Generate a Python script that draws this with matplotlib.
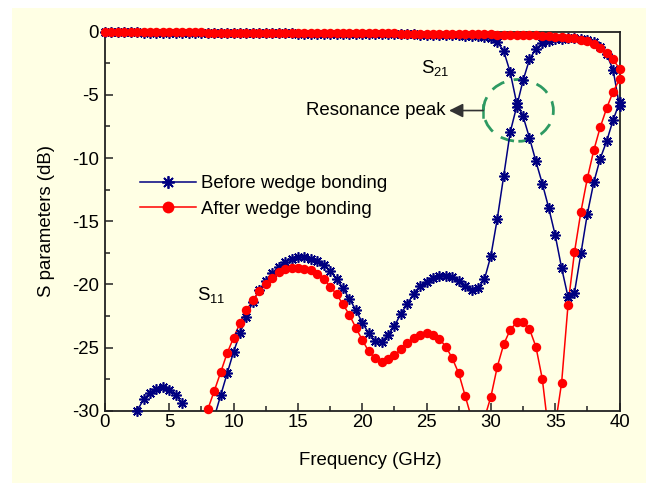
import numpy as np
import matplotlib
matplotlib.use('Agg')
import matplotlib.pyplot as plt
from matplotlib.lines import Line2D
from matplotlib.patches import Ellipse, Rectangle
from matplotlib.ticker import MultipleLocator

plt.rcParams['font.family'] = ['Liberation Sans', 'DejaVu Sans']
plt.rcParams['font.size'] = 13.4
plt.rcParams['axes.unicode_minus'] = False
plt.rcParams['mathtext.default'] = 'regular'

nan = np.nan

# frequency grid (GHz), 0.5 GHz step
freq = np.arange(0, 40.5, 0.5)

# S21, before wedge bonding
s21_before = [
    -0.05, -0.05, -0.05, -0.06, -0.06, -0.06, -0.07, -0.07, -0.07, -0.08,
    -0.08, -0.08, -0.09, -0.09, -0.09, -0.10, -0.10, -0.10, -0.11, -0.11,
    -0.11, -0.12, -0.12, -0.12, -0.13, -0.13, -0.13, -0.14, -0.14, -0.14,
    -0.15, -0.15, -0.15, -0.16, -0.16, -0.16, -0.17, -0.17, -0.17, -0.18,
    -0.18, -0.18, -0.19, -0.19, -0.20, -0.20, -0.21, -0.21, -0.22, -0.23,
    -0.24, -0.25, -0.26, -0.27, -0.28, -0.30, -0.32, -0.34, -0.36, -0.40,
    -0.50, -0.80, -1.54, -3.20, -5.63, -6.69, -8.40, -10.26, -12.03, -13.96,
    -16.10, -18.70, -21.00, -20.65, -17.55, -14.42, -11.93, -10.05, -8.67, -7.00,
    -5.60]

# S11, before wedge bonding
s11_before = [
    nan, nan, nan, nan, nan, -30.0, -29.1, -28.58, -28.3, -28.15,
    -28.35, -28.75, -29.4, nan, nan, nan, nan, -30.5, -28.76, -27.04,
    -25.33, -23.87, -22.55, -21.36, -20.44, -19.72, -19.11, -18.59, -18.19, -18.0,
    -17.84, -17.84, -18.0, -18.14, -18.45, -18.93, -19.56, -20.3, -21.15, -22.02,
    -23.03, -23.87, -24.5, -24.54, -24.0, -23.29, -22.34, -21.55, -20.75, -20.12,
    -19.78, -19.5, -19.33, -19.33, -19.43, -19.7, -20.12, -20.44, -20.3, -19.59,
    -17.74, -14.8, -11.4, -7.96, -5.95, -3.86, -2.2, -1.35, -0.93, -0.74,
    -0.6, -0.55, -0.52, -0.52, -0.55, -0.65, -0.85, -1.2, -1.8, -3.0,
    -5.9]

# S21, after wedge bonding
s21_after = [
    -0.03, -0.03, -0.03, -0.03, -0.04, -0.04, -0.04, -0.04, -0.05, -0.05,
    -0.05, -0.05, -0.06, -0.06, -0.06, -0.06, -0.07, -0.07, -0.07, -0.07,
    -0.08, -0.08, -0.08, -0.08, -0.09, -0.09, -0.09, -0.09, -0.10, -0.10,
    -0.10, -0.10, -0.11, -0.11, -0.11, -0.11, -0.12, -0.12, -0.12, -0.12,
    -0.13, -0.13, -0.13, -0.14, -0.14, -0.14, -0.15, -0.15, -0.15, -0.16,
    -0.16, -0.17, -0.17, -0.18, -0.18, -0.19, -0.19, -0.20, -0.20, -0.21,
    -0.22, -0.23, -0.24, -0.25, -0.26, -0.27, -0.28, -0.30, -0.32, -0.35,
    -0.38, -0.42, -0.46, -0.52, -0.62, -0.75, -0.95, -1.27, -1.72, -2.20,
    -2.93]

# S11, after wedge bonding
s11_after = [
    nan, nan, nan, nan, nan, nan, nan, nan, nan, nan,
    nan, nan, nan, nan, nan, nan, -29.87, -28.42, -26.94, -25.43,
    -24.22, -23.05, -22.05, -21.23, -20.54, -19.94, -19.46, -19.06, -18.79, -18.67,
    -18.67, -18.77, -18.9, -19.17, -19.56, -20.17, -20.78, -21.57, -22.42, -23.43,
    -24.4, -25.3, -25.85, -26.12, -25.93, -25.61, -25.12, -24.61, -24.27, -24.0,
    -23.87, -24.0, -24.32, -24.93, -25.85, -27.04, -28.82, -30.6, -32.0, -30.6,
    -28.9, -26.52, -24.74, -23.6, -23.0, -23.0, -23.53, -24.93, -27.5, -31.8,
    -31.2, -27.79, -21.6, -17.45, -14.25, -11.6, -9.39, -7.57, -6.06, -4.76,
    -3.78]

labels = ['Before wedge bonding', 'After wedge bonding']

bg = '#FFFFE4'
navy = '#000080'
red = '#FF0000'
green = '#2E9A62'
star = (8, 2, 0)

fig = plt.figure(figsize=(6.46, 4.83), dpi=100)
fig.patches.append(Rectangle((12 / 646, 0.0), 1, 1 - 8 / 483, transform=fig.transFigure,
                             facecolor=bg, edgecolor='none', zorder=-10))
ax = fig.add_axes([105 / 646, 1 - 410.7 / 483, 514.5 / 646, 379 / 483])
ax.set_facecolor(bg)


def draw(vals, color, marker, ms, mew):
    y = np.array(vals, dtype=float)
    ax.plot(freq, y, color=color, lw=1.1, zorder=2)
    # markers only where the point lies inside the plotted range
    shown = np.where(y >= -30.2, y, np.nan)
    ax.plot(freq, shown, ls='none', marker=marker, color=color, ms=ms, mew=mew,
            clip_on=False, zorder=3)


draw(s21_before, navy, star, 7.5, 1.2)
draw(s11_before, navy, star, 7.5, 1.2)
draw(s21_after, red, 'o', 6.8, 0)
draw(s11_after, red, 'o', 6.8, 0)

ax.set_xlim(0, 40)
ax.set_ylim(-30, 0)
ax.xaxis.set_major_locator(MultipleLocator(5))
ax.xaxis.set_minor_locator(MultipleLocator(2.5))
ax.yaxis.set_major_locator(MultipleLocator(5))
ax.yaxis.set_minor_locator(MultipleLocator(2.5))
ax.tick_params(which='both', direction='in', top=False, right=False, width=1.1, color='#222222')
ax.tick_params(which='major', length=5.8)
ax.tick_params(which='minor', length=3.6)
ax.tick_params(axis='x', pad=2.5)
ax.tick_params(axis='y', pad=4.3)
for sp in ax.spines.values():
    sp.set_linewidth(1.3)
    sp.set_color('#222222')

ax.set_xlabel('Frequency (GHz)')
ax.xaxis.set_label_coords(0.515, -0.108)
ax.set_ylabel('S parameters (dB)')
ax.yaxis.set_label_coords(-0.097, 0.5)

handles = [Line2D([], [], color=navy, lw=1.1, marker=star, ms=9, mew=1.3),
           Line2D([], [], color=red, lw=1.1, marker='o', ms=8.5, mew=0)]
ax.legend(handles, labels, loc='upper left', bbox_to_anchor=(0.068, 0.621), frameon=False,
          handlelength=3.0, handletextpad=0.27, labelspacing=0.45, borderpad=0,
          borderaxespad=0, numpoints=1)

ax.text(24.6, -2.85, 'S$_{21}$', ha='left', va='center')
ax.text(7.13, -20.87, 'S$_{11}$', ha='left', va='center')

ax.text(26.5, -6.24, 'Resonance peak', ha='right', va='center')
ax.annotate('', xy=(26.75, -6.24), xytext=(29.4, -6.24),
            arrowprops=dict(arrowstyle='-|>,head_length=0.6,head_width=0.3', color='#333333',
                            lw=1.2, mutation_scale=14, shrinkA=0, shrinkB=0))
ax.plot([29.4, 29.4], [-5.77, -6.72], color=green, lw=1.8)
ax.add_patch(Ellipse((32.14, -6.23), width=5.44, height=4.89, fill=False, edgecolor=green,
                     lw=2, linestyle=(0, (5, 3.5))))

fig.savefig('out.png', dpi=100, facecolor='white')
